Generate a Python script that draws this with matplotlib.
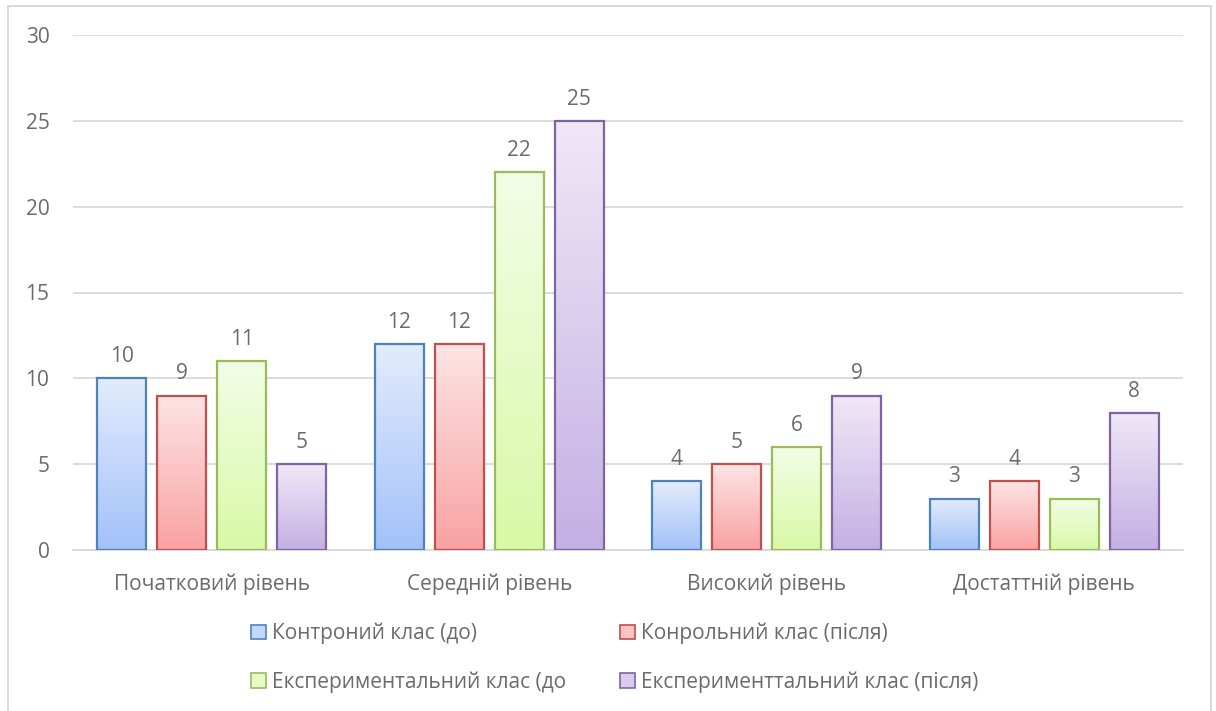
import matplotlib
matplotlib.use("Agg")
import matplotlib.pyplot as plt
import numpy as np
from matplotlib.patches import Rectangle
from matplotlib.colors import LinearSegmentedColormap

plt.rcParams['font.family'] = ['Open Sans', 'DejaVu Sans']

categories = ["Початковий рівень", "Середній рівень", "Високий рівень", "Достаттній рівень"]
series_names = ["Контроний клас (до)", "Конрольний клас (після)",
                "Експериментальний клас (до", "Експериментальний клас (після)"]
series_names[3] = "Експериментальний клас (після)".replace("ментальний", "менттальний")
values = [
    [10, 12, 4, 3],
    [9, 12, 5, 4],
    [11, 22, 6, 3],
    [5, 25, 9, 8],
]
yticks = [0, 5, 10, 15, 20, 25, 30]

edge_colors = ["#4f81bd", "#c0504d", "#9bbb59", "#8064a2"]
top_colors = ["#e2ecfc", "#fde4e4", "#f3fde7", "#efe8f7"]
bot_colors = ["#a3c1f9", "#f9a2a2", "#d8f9a6", "#c4b0e3"]
mid_colors = ["#c3d7fb", "#fbc3c3", "#e6fbc6", "#dacced"]
text_color = "#6b6b6b"
grid_color = "#d9d9d9"
fs = 15

W, H = 1216, 711
fig = plt.figure(figsize=(W / 100, H / 100), dpi=100)
ax = fig.add_axes([73 / W, 1 - 550 / H, (1183 - 73) / W, (550 - 35) / H])

n = len(values)
x = np.arange(len(categories))
step = 0.2162
width = 0.1766
grad = np.linspace(0, 1, 256).reshape(-1, 1)
for i in range(n):
    offs = (i - (n - 1) / 2) * step
    bars = ax.bar(x + offs, values[i], width, facecolor="none",
                  edgecolor=edge_colors[i], linewidth=1.6, zorder=3)
    cmap = LinearSegmentedColormap.from_list("g%d" % i, [bot_colors[i], top_colors[i]])
    for b, v in zip(bars, values[i]):
        x0 = b.get_x()
        im = ax.imshow(grad, extent=(x0, x0 + b.get_width(), 0, b.get_height()),
                       origin="lower", aspect="auto", cmap=cmap, zorder=2,
                       interpolation="bicubic")
        im.set_clip_path(b)
        ax.annotate(str(v), (b.get_x() + b.get_width() / 2, v),
                    xytext=(0, 8), textcoords="offset points",
                    ha="center", va="bottom", fontsize=fs, color=text_color)

ax.set_xlim(-0.5, len(categories) - 0.5)
ax.set_ylim(0, 30)
ax.set_yticks(yticks)
ax.set_xticks(x)
ax.set_xticklabels(categories)
ax.tick_params(axis="both", length=0, colors=text_color, labelsize=fs)
ax.tick_params(axis="y", pad=17)
ax.tick_params(axis="x", pad=17)
ax.yaxis.grid(True, color=grid_color, linewidth=1.3, zorder=0)
ax.set_axisbelow(True)
for s in ["top", "right", "left"]:
    ax.spines[s].set_visible(False)
ax.spines["bottom"].set_color(grid_color)
ax.spines["bottom"].set_linewidth(1.3)

handles = [Rectangle((0, 0), 1, 1, facecolor=mid_colors[i], edgecolor=edge_colors[i], linewidth=1.2)
           for i in range(n)]
order = [0, 2, 1, 3]
leg = fig.legend([handles[k] for k in order], [series_names[k] for k in order],
                 ncol=2, loc="center", bbox_to_anchor=(615 / W, 1 - 658 / H),
                 frameon=False, fontsize=fs, handlelength=0.7, handleheight=0.7,
                 handletextpad=0.3, columnspacing=2.6, labelspacing=1.3)
for t in leg.get_texts():
    t.set_color(text_color)

frame = Rectangle((8 / W, -0.05), (1211 - 8) / W, 0.05 + 1 - 6 / H, transform=fig.transFigure,
                  facecolor="none", edgecolor=grid_color, linewidth=1.5)
fig.patches.append(frame)

fig.savefig("out.png", dpi=100)
